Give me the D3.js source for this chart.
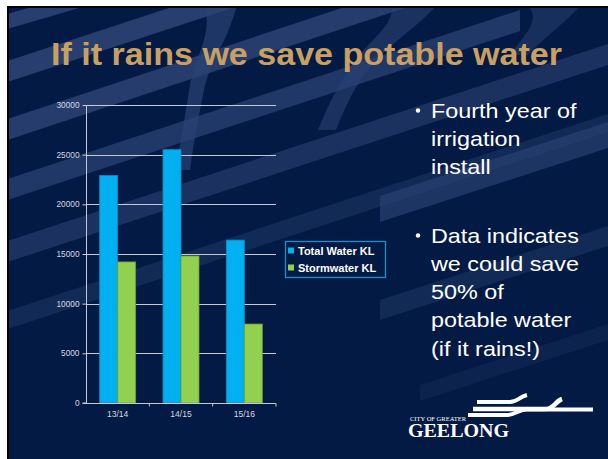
<!DOCTYPE html>
<html>
<head>
<meta charset="utf-8">
<script src="https://cdn.jsdelivr.net/npm/d3@7"></script>
<style>
  html, body { margin: 0; padding: 0; background: #ffffff; }
  svg { display: block; }
</style>
</head>
<body>
<div id="chart"></div>
<script>
// ---------- data ----------
const categories = ["13/14", "14/15", "15/16"];
const seriesNames = ["Total Water KL", "Stormwater KL"];
const totalWater = [22900, 25500, 16400];
const stormwater = [14200, 14800, 7950];
const yTicks = [0, 5000, 10000, 15000, 20000, 25000, 30000];
const titleText = "If it rains we save potable water";
const bullet1 = ["Fourth year of", "irrigation", "install"];
const bullet2 = ["Data indicates", "we could save", "50% of", "potable water", "(if it rains!)"];

const W = 608, H = 459;
const svg = d3.select("#chart").append("svg").attr("width", W).attr("height", H);

// ---------- slide frame ----------
svg.append("rect").attr("x", 0).attr("y", 0).attr("width", W).attr("height", H).attr("fill", "#ffffff");
svg.append("rect").attr("x", 7).attr("y", 6).attr("width", W - 7).attr("height", H - 6).attr("fill", "#000000");
const slide = svg.append("g");
const defs = svg.append("defs");
defs.append("clipPath").attr("id", "slideClip")
  .append("rect").attr("x", 9).attr("y", 8).attr("width", W - 9).attr("height", H - 8);
const bg = slide.append("g").attr("clip-path", "url(#slideClip)");
bg.append("rect").attr("x", 9).attr("y", 8).attr("width", W - 9).attr("height", H - 8).attr("fill", "#031a44");

// diagonal light bands
const bandCol = "#2b4374";
function band(x0, y0, x1, y1, t, op) {
  bg.append("path")
    .attr("d", `M${x0},${y0} L${x1},${y1} L${x1},${y1 + t} L${x0},${y0 + t} Z`)
    .attr("fill", bandCol).attr("opacity", op);
}
band(-20, 22, 260, -60, 15, 0.9);
band(-20, 70, 330, -45, 21, 0.9);
band(-20, 128, 420, -18, 21, 0.85);
band(-20, 188, 520, 10, 21, 0.75);
band(-20, 250, 620, 40, 21, 0.6);
band(-20, 320, 620, 110, 18, 0.4);
band(380, 196, 620, 118, 26, 0.65);
band(380, 300, 620, 222, 20, 0.4);
band(420, 385, 620, 320, 16, 0.22);

// curved ribbons
bg.append("path")
  .attr("d", "M205,8 L236,8 C228,40 210,62 204,90 C199,115 194,140 190,170 L176,170 C182,135 186,110 190,85 C196,55 212,35 205,8 Z")
  .attr("fill", bandCol).attr("opacity", 0.7);
bg.append("path")
  .attr("d", "M392,8 L434,8 C414,30 384,47 364,75 C352,92 344,110 336,130 L318,130 C328,105 338,86 350,68 C368,40 392,28 392,8 Z")
  .attr("fill", bandCol).attr("opacity", 0.6);
bg.append("path")
  .attr("d", "M530,8 L578,8 C563,25 543,38 528,55 L510,55 C522,38 540,22 530,8 Z")
  .attr("fill", bandCol).attr("opacity", 0.5);

// ---------- title ----------
slide.append("text")
  .attr("x", 51).attr("y", 65)
  .attr("font-family", "Liberation Sans, Arial, sans-serif")
  .attr("font-weight", "bold").attr("font-size", 31.5)
  .attr("fill", "#c9a061")
  .attr("textLength", 511).attr("lengthAdjust", "spacingAndGlyphs")
  .text(titleText);

// ---------- chart ----------
const plot = { left: 86, right: 276, top: 105, bottom: 403 };
const y = d3.scaleLinear().domain([0, 30000]).range([plot.bottom, plot.top]);
const x0 = d3.scaleBand().domain(categories).range([plot.left, plot.right]).padding(0);
const x1 = d3.scaleBand().domain(seriesNames).range([0, x0.bandwidth()]).paddingInner(0).paddingOuter(0.76);
const colors = { "Total Water KL": "#00b0f0", "Stormwater KL": "#92d050" };
const strokes = { "Total Water KL": "#1b86bf", "Stormwater KL": "#6f9c3e" };
const chart = slide.append("g");

// gridlines
chart.append("g").selectAll("line").data(yTicks.filter(d => d > 0)).join("line")
  .attr("x1", plot.left).attr("x2", plot.right)
  .attr("y1", d => Math.round(y(d)) + 0.5).attr("y2", d => Math.round(y(d)) + 0.5)
  .attr("stroke", "#c6c9d2").attr("stroke-width", 1);

// bars
const rows = categories.map((c, i) => ({ cat: c, vals: [
  { s: seriesNames[0], v: totalWater[i] },
  { s: seriesNames[1], v: stormwater[i] }
]}));
chart.append("g").selectAll("g").data(rows).join("g")
  .attr("transform", d => `translate(${x0(d.cat)},0)`)
  .selectAll("rect").data(d => d.vals).join("rect")
  .attr("x", d => x1(d.s)).attr("width", x1.bandwidth())
  .attr("y", d => y(d.v)).attr("height", d => y(0) - y(d.v))
  .attr("fill", d => colors[d.s]).attr("stroke", d => strokes[d.s]).attr("stroke-width", 0.8);

// y axis
const yAxis = d3.axisLeft(y).tickValues(yTicks).tickSize(4).tickPadding(3).tickFormat(d3.format("d"));
const gy = chart.append("g").attr("transform", `translate(${plot.left + 0.5},0)`).call(yAxis);
gy.select(".domain").attr("stroke", "#c6c9d2").attr("d", `M-4,${plot.bottom}H0V${plot.top}`);
gy.selectAll(".tick line").attr("stroke", "#c6c9d2");
gy.selectAll(".tick text").attr("fill", "#d6d9e0").attr("font-size", 8.3)
  .attr("font-family", "Liberation Sans, Arial, sans-serif");

// x axis
const xAxis = d3.axisBottom(x0).tickSize(0).tickPadding(7);
const gx = chart.append("g").attr("transform", `translate(0,${plot.bottom + 0.5})`).call(xAxis);
gx.select(".domain").attr("stroke", "#c6c9d2").attr("d", `M${plot.left},0H${plot.right}`);
gx.selectAll(".tick text").attr("fill", "#d6d9e0").attr("font-size", 8.5)
  .attr("font-family", "Liberation Sans, Arial, sans-serif");
const bounds = categories.map(c => x0(c) + x0.bandwidth());
gx.append("g").selectAll("line").data(bounds).join("line")
  .attr("x1", d => d).attr("x2", d => d).attr("y1", 0).attr("y2", 3)
  .attr("stroke", "#c6c9d2");

// legend
const lg = chart.append("g");
lg.append("rect").attr("x", 285.5).attr("y", 241.5).attr("width", 100).attr("height", 36)
  .attr("fill", "none").attr("stroke", "#1790d6").attr("stroke-width", 1.3);
const li = lg.selectAll("g.item").data(seriesNames).join("g").attr("class", "item")
  .attr("transform", (d, i) => `translate(288,${250.5 + i * 17})`);
li.append("rect").attr("x", 0).attr("y", -3).attr("width", 6).attr("height", 6)
  .attr("fill", d => colors[d]);
li.append("text").attr("x", 10).attr("y", 4)
  .attr("font-family", "Liberation Sans, Arial, sans-serif").attr("font-weight", "bold")
  .attr("font-size", 11).attr("fill", "#ffffff").text(d => d);

// ---------- bullets ----------
const bx = 431, bul = slide.append("g")
  .attr("font-family", "Liberation Sans, Arial, sans-serif").attr("fill", "#ffffff");
function bulletBlock(lines, y0, step) {
  bul.append("circle").attr("cx", 418).attr("cy", y0 - 7).attr("r", 2.2).attr("fill", "#ffffff");
  lines.forEach((t, i) => {
    bul.append("text").attr("transform", `translate(${bx},${y0 + i * step}) scale(1.14,1)`)
      .attr("font-size", 20.5).text(t);
  });
}
bulletBlock(bullet1, 117.5, 28.4);
bulletBlock(bullet2, 242.5, 28.3);

// ---------- logo ----------
const logo = slide.append("g");
const lw = "#ffffff";
logo.append("path").attr("d", "M477,402 H510 C517,402 519,397 527,395").attr("stroke", lw).attr("stroke-width", 4).attr("fill", "none");
logo.append("path").attr("d", "M473,409 H546 C553,409 556,401 562,399").attr("stroke", lw).attr("stroke-width", 4.5).attr("fill", "none");
logo.append("path").attr("d", "M468,415 H507 C515,415 518,410 526,409.5 H593").attr("stroke", lw).attr("stroke-width", 4).attr("fill", "none");
logo.append("text").attr("x", 410).attr("y", 421).attr("font-family", "Liberation Serif, Times New Roman, serif")
  .attr("font-size", 6.5).attr("fill", "#ffffff").attr("textLength", 56).attr("lengthAdjust", "spacingAndGlyphs")
  .text("CITY OF GREATER");
logo.append("text").attr("x", 408).attr("y", 437).attr("font-family", "Liberation Serif, Times New Roman, serif")
  .attr("font-size", 18).attr("font-weight", "bold").attr("fill", "#ffffff")
  .attr("textLength", 101).attr("lengthAdjust", "spacingAndGlyphs")
  .text("GEELONG");
</script>
</body>
</html>
